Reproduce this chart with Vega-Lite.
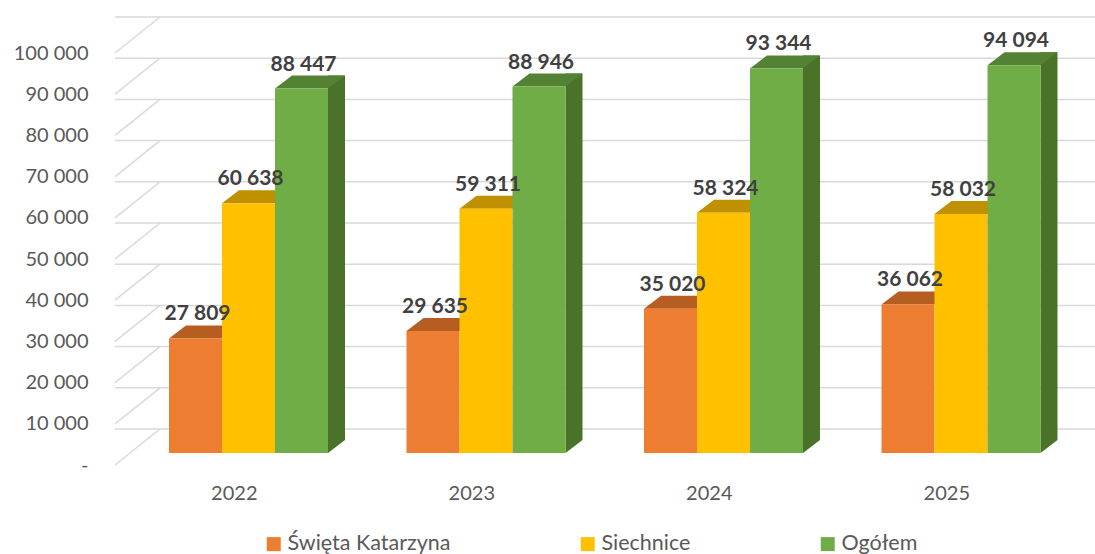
{
  "$schema": "https://vega.github.io/schema/vega-lite/v6.json",
  "width": 935,
  "height": 412,
  "autosize": {"type": "none"},
  "padding": {"left": 115, "top": 41, "right": 45, "bottom": 101},
  "background": "white",
  "config": {
    "view": {"stroke": null},
    "font": "Lato",
    "locale": {"number": {"decimal": ",", "thousands": " ", "grouping": [3], "currency": ["", " zł"]}}
  },
  "datasets": {
    "bars": [
      {"year": "2022", "series": "Święta Katarzyna", "value": 27809},
      {"year": "2022", "series": "Siechnice", "value": 60638},
      {"year": "2022", "series": "Ogółem", "value": 88447},
      {"year": "2023", "series": "Święta Katarzyna", "value": 29635},
      {"year": "2023", "series": "Siechnice", "value": 59311},
      {"year": "2023", "series": "Ogółem", "value": 88946},
      {"year": "2024", "series": "Święta Katarzyna", "value": 35020},
      {"year": "2024", "series": "Siechnice", "value": 58324},
      {"year": "2024", "series": "Ogółem", "value": 93344},
      {"year": "2025", "series": "Święta Katarzyna", "value": 36062},
      {"year": "2025", "series": "Siechnice", "value": 58032},
      {"year": "2025", "series": "Ogółem", "value": 94094}
    ],
    "ticks": [
      {"v": 0}, {"v": 10000}, {"v": 20000}, {"v": 30000}, {"v": 40000}, {"v": 50000},
      {"v": 60000}, {"v": 70000}, {"v": 80000}, {"v": 90000}, {"v": 100000}
    ]
  },
  "resolve": {"scale": {"color": "independent"}, "legend": {"color": "independent"}},
  "layer": [
    {
      "data": {"name": "ticks"},
      "mark": {"type": "rule", "color": "#D9D9D9", "strokeWidth": 1.5, "xOffset": 45, "x2Offset": 45, "yOffset": -24},
      "encoding": {
        "y": {
          "field": "v", "type": "quantitative", "title": null,
          "scale": {"domain": [0, 100000], "nice": false, "zero": true},
          "axis": {
            "values": [0, 10000, 20000, 30000, 40000, 50000, 60000, 70000, 80000, 90000, 100000],
            "grid": false, "domain": false, "ticks": false, "tickSize": 0,
            "labelPadding": 27, "labelOffset": 12, "labelFontSize": 20, "labelColor": "#595959",
            "labelExpr": "datum.value === 0 ? '-' : format(datum.value, ',')"
          }
        }
      }
    },
    {
      "data": {"name": "ticks"},
      "mark": {"type": "rule", "color": "#D9D9D9", "strokeWidth": 1.5, "yOffset": 12, "y2Offset": -24},
      "encoding": {
        "x": {"value": 0},
        "x2": {"value": 45},
        "y": {"field": "v", "type": "quantitative", "title": null},
        "y2": {"field": "v"}
      }
    },
    {
      "data": {"name": "bars"},
      "transform": [{"filter": "datum.series === 'Ogółem'"}],
      "mark": {"type": "bar", "width": 17, "xOffset": 88, "yOffset": -13, "y2Offset": -13, "color": "#4A7229"},
      "encoding": {
        "x": {"field": "year", "type": "nominal", "title": null, "scale": {"range": [54, 925.5], "paddingInner": 0.3305, "paddingOuter": 0}},
        "y": {"field": "value", "type": "quantitative", "title": null},
        "y2": {"datum": 0}
      }
    },
    {
      "data": {"name": "bars"},
      "transform": [{"filter": "datum.series === 'Ogółem'"}],
      "mark": {"type": "point", "filled": true, "opacity": 1, "strokeWidth": 0, "size": 2809, "color": "#4A7229", "shape": "M1,0L1.6415,-0.4906L1,-0.4906Z"},
      "encoding": {
        "x": {"field": "year", "type": "nominal", "title": null},
        "xOffset": {"field": "series", "sort": ["Święta Katarzyna", "Siechnice", "Ogółem"], "scale": {"domain": ["Święta Katarzyna", "Siechnice", "Ogółem"], "paddingInner": 0, "paddingOuter": 0}},
        "y": {"datum": 0, "type": "quantitative"}
      }
    },
    {
      "data": {"name": "bars"},
      "mark": {"type": "point", "filled": true, "opacity": 1, "strokeWidth": 0, "size": 2809, "shape": "M-1,0L1,0L1.6415,-0.4906L-0.3585,-0.4906Z"},
      "encoding": {
        "x": {"field": "year", "type": "nominal", "title": null},
        "xOffset": {"field": "series", "sort": ["Święta Katarzyna", "Siechnice", "Ogółem"]},
        "y": {"field": "value", "type": "quantitative", "title": null},
        "color": {"field": "series", "type": "nominal", "legend": null, "scale": {"domain": ["Święta Katarzyna", "Siechnice", "Ogółem"], "range": ["#B65D22", "#BF9000", "#548235"]}}
      }
    },
    {
      "data": {"name": "bars"},
      "mark": {"type": "bar", "strokeWidth": 0},
      "encoding": {
        "x": {"field": "year", "type": "nominal", "title": null,
          "axis": {"labelAngle": 0, "labelOffset": 9, "labelPadding": 40, "ticks": false, "domain": false, "labelFontSize": 20, "labelColor": "#595959"}},
        "xOffset": {"field": "series", "sort": ["Święta Katarzyna", "Siechnice", "Ogółem"]},
        "y": {"field": "value", "type": "quantitative", "title": null},
        "color": {
          "field": "series", "type": "nominal", "sort": ["Święta Katarzyna", "Siechnice", "Ogółem"],
          "scale": {"domain": ["Święta Katarzyna", "Siechnice", "Ogółem"], "range": ["#ED7D31", "#FFC000", "#70AD47"]},
          "legend": {"orient": "none", "legendX": 148, "legendY": 492, "direction": "horizontal", "title": null,
            "symbolType": "square", "symbolSize": 196, "symbolStrokeWidth": 0, "labelFontSize": 21.5, "labelColor": "#595959",
            "labelLimit": 400, "columnPadding": 126, "labelOffset": 3}
        }
      }
    },
    {
      "data": {"name": "bars"},
      "mark": {"type": "text", "dy": -24, "dx": 2, "fontSize": 21, "fontWeight": "bold", "color": "#404040", "baseline": "middle"},
      "encoding": {
        "x": {"field": "year", "type": "nominal", "title": null},
        "xOffset": {"field": "series", "sort": ["Święta Katarzyna", "Siechnice", "Ogółem"]},
        "y": {"field": "value", "type": "quantitative", "title": null},
        "text": {"field": "value", "type": "quantitative", "format": ","}
      }
    }
  ]
}
